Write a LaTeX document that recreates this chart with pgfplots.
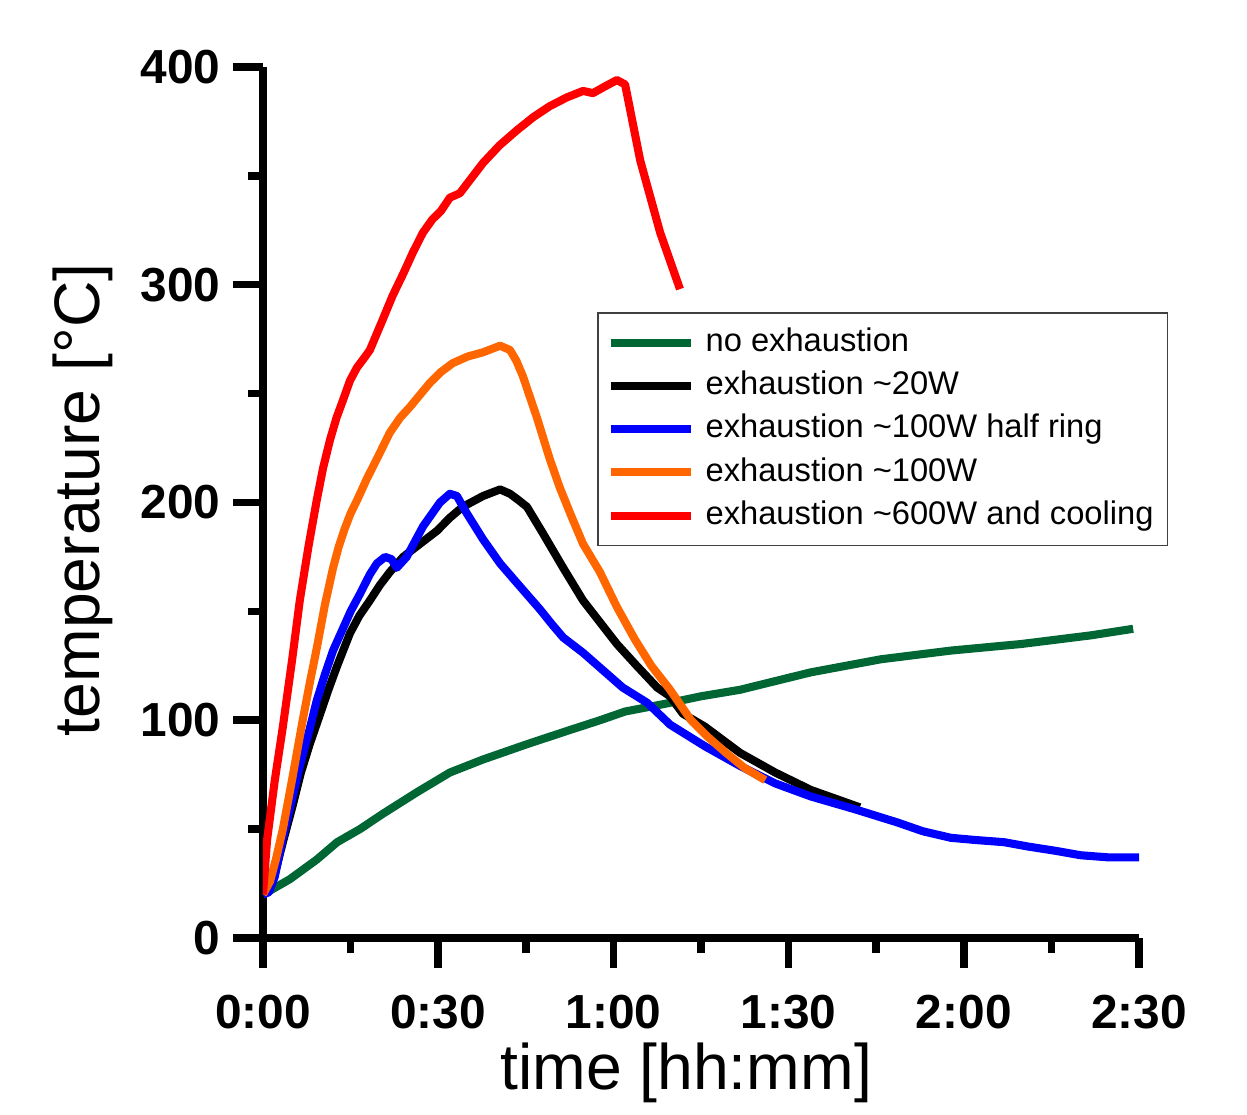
\documentclass[border=0pt]{standalone}
\usepackage{fontspec}
\setmainfont{Liberation Sans}
\usepackage{pgfplots}
\pgfplotsset{compat=1.18}
\definecolor{cgreen}{RGB}{0,102,51}
\definecolor{cblue}{RGB}{0,0,255}
\definecolor{corange}{RGB}{255,102,0}
\definecolor{cred}{RGB}{255,0,0}

\begin{document}
\begin{tikzpicture}
\path (-26.3mm,-16.4mm) rectangle (98.4mm,93.8mm);
\begin{axis}[at={(0,0)},anchor=south west,scale only axis,width=87.6mm,height=87.1mm,
  xmin=0,xmax=150,ymin=0,ymax=400,
  axis lines*=left,axis line style={line width=0.75mm,-},
  xtick={0,30,...,150},xticklabels={0:00,0:30,1:00,1:30,2:00,2:30},
  minor xtick={15,45,...,135},
  ytick={0,100,...,400},yticklabels={0,100,200,300,400},
  minor ytick={50,150,250,350},
  tick align=outside,major tick length=3mm,minor tick length=1.5mm,
  every tick/.style={black,line width=0.75mm},
  tick label style={font=\bfseries\fontsize{13.6}{16}\selectfont},
  xticklabel style={yshift=-1.5mm},
  every axis x label/.style={at={(axis description cs:0.483,-0.174)},anchor=base},
  every axis y label/.style={at={(axis description cs:-0.187,0.503)},anchor=base,rotate=90},
  label style={font=\fontsize{18.3}{22}\selectfont},
  xlabel={time [hh:mm]},ylabel={temperature [°C]},
  legend style={at={(axis description cs:0.381,0.7187)},anchor=north west,
    draw=black!75,line width=0.5pt,font=\fontsize{9.3}{11}\selectfont,
    inner xsep=0.9mm,inner ysep=0.8mm,row sep=0pt,column sep=0.6mm,
    nodes={inner sep=0.5mm,text height=2.55mm,text depth=0.78mm}},
  legend cell align=left,
  legend image code/.code={\draw[#1,line width=0.8mm] (0mm,0mm) -- (8mm,0mm);},
  every axis plot/.append style={line width=2.3pt,line join=round},
]
\addplot[cgreen] coordinates {(0,20) (0.7,21) (4.6,27) (9.2,36) (12.7,44) (16.6,50) (20.5,57) (26.4,67) (32.0,76) (37.7,82) (45.2,89) (53.1,96) (57.7,100) (62,104) (69.7,108) (75,111) (81.7,114) (93.8,122) (105.8,128) (117.8,132) (129.8,135) (141.8,139) (149,142)};
\addplot[black] coordinates {(0,20) (1,22) (2,29) (3.4,44) (5,60) (6.5,76) (8,89) (9.8,103) (11.2,114) (12.7,125) (14.9,140) (16.5,148) (18.3,155) (20,162) (21.7,168) (24,175) (26.4,180) (29.8,187) (32,193) (34.2,198) (37.7,203) (40.6,206) (42.3,204) (43.8,201) (45.2,198) (47.9,186) (51.4,170) (54.8,155) (57.7,145) (60.6,135) (64,125) (67.5,115) (69.7,111) (71.9,103) (75.7,97) (81.7,85) (87.7,76) (93.8,68) (98,64) (102.2,60)};
\addplot[cblue] coordinates {(0,20) (1,21) (2,28) (3.4,46) (5,64) (6.3,79) (8,96) (9.2,109) (10.6,121) (12,132) (13.5,141) (15,150) (16.6,158) (18.3,167) (19.5,172) (20.9,175) (22,174) (22.9,170) (24.6,175) (26,182) (27.4,189) (30.3,200) (32,204) (33.2,203) (34.9,195) (37.7,183) (40.6,172) (43.5,163) (47.4,151) (49.5,144) (51.4,138) (54.8,131) (58.2,123) (61.6,115) (65.8,108) (69.7,98) (75.7,88) (81.7,79) (87.7,71) (93.8,65) (101.5,59) (108.7,53) (113,49) (117.8,46) (122,45) (126.9,44) (131,42) (135.8,40) (140,38) (144.9,37) (150,37)};
\addplot[corange] coordinates {(0,20) (1.2,26) (2.2,36) (3.4,50) (5,73) (6.8,100) (8,117) (9.2,133) (10.6,153) (12,170) (13,180) (14,188) (15,195) (16.1,201) (17.8,211) (19.5,220) (21.7,232) (23.5,239) (25.2,244) (28.6,255) (30.5,260) (32.5,264) (35,267) (37.7,269) (40.6,272) (42.3,270) (43.4,265) (44.5,258) (46.9,239) (49.1,220) (50.8,207) (52.6,195) (54.8,181) (57.7,168) (60.6,152) (63.7,137) (66.5,125) (69.7,114) (73.3,100) (76.3,92) (79.3,85) (82.5,78) (86,72.5)};
\addplot[cred] coordinates {(0,20) (0.7,45) (2,72) (3.4,97) (5,128) (6.3,155) (7.8,180) (9.2,201) (10.3,216) (11.5,229) (12.6,239) (13.7,247) (14.9,256) (16.1,262) (17.5,267) (18.3,270) (19.4,277) (20.5,284) (22.2,295) (24,305) (25.7,315) (27.4,324) (29,330) (30.5,334) (32,340) (33.7,342) (35.7,349) (37.7,356) (40.5,364) (43.5,371) (46.3,377) (49.1,382) (52,386) (54.8,389) (56.5,388) (58.5,391) (60.6,394) (62,392) (64.6,357) (68,324) (71.4,298)};
\legend{no exhaustion,exhaustion \textasciitilde 20W,exhaustion \textasciitilde 100W half ring,exhaustion \textasciitilde 100W,exhaustion \textasciitilde 600W and cooling}
\end{axis}
\end{tikzpicture}
\end{document}
